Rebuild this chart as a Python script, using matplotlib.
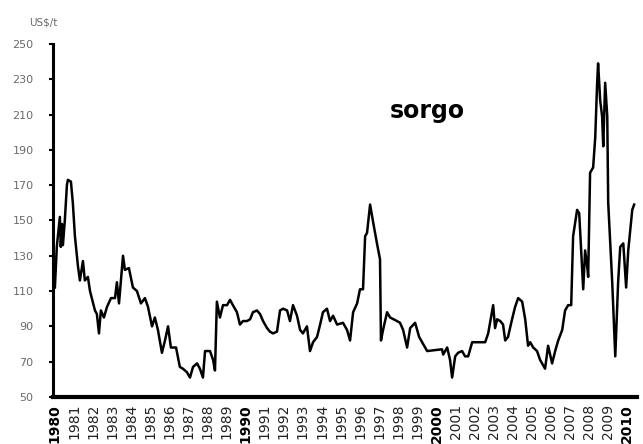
import matplotlib
matplotlib.use("Agg")
import matplotlib.pyplot as plt

# sorghum price, US$/t
years = [1980.00, 1980.10, 1980.26, 1980.31, 1980.37, 1980.42, 1980.52, 1980.63, 1980.68, 1980.84,
         1980.94, 1981.05, 1981.21, 1981.31, 1981.47, 1981.57, 1981.73, 1981.84, 1982.10, 1982.20,
         1982.31, 1982.41, 1982.57, 1982.73, 1982.94, 1983.15, 1983.25, 1983.36, 1983.46, 1983.57,
         1983.67, 1983.88, 1984.09, 1984.30, 1984.51, 1984.72, 1984.88, 1985.09, 1985.24, 1985.40,
         1985.61, 1985.77, 1985.93, 1986.08, 1986.35, 1986.55, 1986.71, 1986.92, 1987.08, 1987.24,
         1987.45, 1987.60, 1987.76, 1987.87, 1988.13, 1988.29, 1988.39, 1988.49, 1988.65, 1988.81,
         1989.02, 1989.18, 1989.33, 1989.54, 1989.70, 1989.86, 1990.07, 1990.23, 1990.38, 1990.59,
         1990.75, 1990.91, 1991.12, 1991.27, 1991.43, 1991.64, 1991.80, 1991.96, 1992.17, 1992.32,
         1992.48, 1992.69, 1992.85, 1993.00, 1993.21, 1993.37, 1993.53, 1993.74, 1993.90, 1994.05,
         1994.26, 1994.42, 1994.58, 1994.79, 1995.10, 1995.31, 1995.47, 1995.63, 1995.84, 1995.99,
         1996.15, 1996.26, 1996.36, 1996.52, 1996.68, 1996.88, 1997.04, 1997.09, 1997.20, 1997.41,
         1997.57, 1997.93, 1998.09, 1998.25, 1998.46, 1998.62, 1998.88, 1999.09, 1999.51, 2000.29,
         2000.35, 2000.56, 2000.71, 2000.82, 2000.98, 2001.13, 2001.34, 2001.50, 2001.66, 2001.87,
         2002.55, 2002.71, 2002.97, 2003.07, 2003.18, 2003.34, 2003.49, 2003.60, 2003.75, 2003.96,
         2004.12, 2004.28, 2004.49, 2004.65, 2004.80, 2004.91, 2005.07, 2005.27, 2005.43, 2005.59,
         2005.69, 2005.85, 2006.06, 2006.22, 2006.38, 2006.59, 2006.74, 2006.90, 2007.06, 2007.16,
         2007.37, 2007.48, 2007.63, 2007.69, 2007.79, 2007.90, 2007.95, 2008.05, 2008.21, 2008.32,
         2008.42, 2008.47, 2008.58, 2008.68, 2008.74, 2008.84, 2008.95, 2009.00, 2009.21, 2009.37,
         2009.52, 2009.63, 2009.79, 2009.94, 2010.05, 2010.26, 2010.36]
prices = [112, 135, 152, 135, 148, 136, 150, 170, 173, 172,
          160, 141, 124, 116, 127, 116, 118, 110, 99, 97,
          86, 99, 95, 101, 106, 106, 115, 103, 116, 130,
          122, 123, 112, 110, 103, 106, 101, 90, 95, 88,
          75, 82, 90, 78, 78, 67, 66, 64, 61, 67,
          69, 66, 61, 76, 76, 71, 65, 104, 95, 102,
          102, 105, 102, 98, 91, 93, 93, 94, 98, 99,
          97, 93, 89, 87, 86, 87, 99, 100, 99, 93,
          102, 96, 88, 86, 90, 76, 81, 84, 91, 98,
          100, 93, 96, 91, 92, 88, 82, 98, 103, 111,
          111, 141, 143, 159, 149, 137, 128, 82, 88, 98,
          95, 93, 92, 88, 78, 89, 92, 84, 76, 77,
          74, 78, 71, 61, 73, 75, 76, 73, 73, 81,
          81, 86, 102, 89, 94, 93, 91, 82, 84, 94,
          101, 106, 104, 94, 79, 81, 78, 76, 71, 68,
          66, 79, 69, 76, 82, 88, 99, 102, 102, 141,
          156, 154, 124, 111, 133, 124, 118, 177, 180, 197,
          228, 239, 218, 209, 192, 228, 209, 160, 115, 73,
          115, 135, 137, 112, 133, 156, 159]

tick_years = list(range(1980, 2011))
y_ticks = list(range(50, 251, 20))

fig = plt.figure(figsize=(6.43, 4.44), dpi=100)
ax = fig.add_axes([0.0824, 0.106, 0.908, 0.795])

ax.plot(years, prices, color="black", lw=1.8, solid_joinstyle="round")

ax.set_xlim(1979.9, 2010.5)
ax.set_ylim(50, 250)

ax.set_yticks(y_ticks)
ax.set_yticklabels([str(v) for v in y_ticks], fontsize=8, color="#6a6a6a")
ax.tick_params(axis="y", length=3, width=1.5, color="black", pad=11)

ax.set_xticks(tick_years)
ax.set_xticklabels([str(y) for y in tick_years], rotation=90, fontsize=10, color="#222222")
ax.tick_params(axis="x", length=0, pad=5)
for lab in ax.get_xticklabels():
    if lab.get_text() in ("1980", "1990", "2000", "2010"):
        lab.set_fontweight("bold")
        lab.set_color("black")

for side in ("top", "right"):
    ax.spines[side].set_visible(False)
ax.spines["left"].set_linewidth(2.2)
ax.spines["bottom"].set_linewidth(3.0)

fig.text(0.068, 0.950, "US$/t", fontsize=7.5, color="#6a6a6a", ha="center", va="center")
ax.text(1999.5, 212, "sorgo", fontsize=17, fontweight="bold", ha="center", va="center")

fig.savefig("out.png", dpi=100)
